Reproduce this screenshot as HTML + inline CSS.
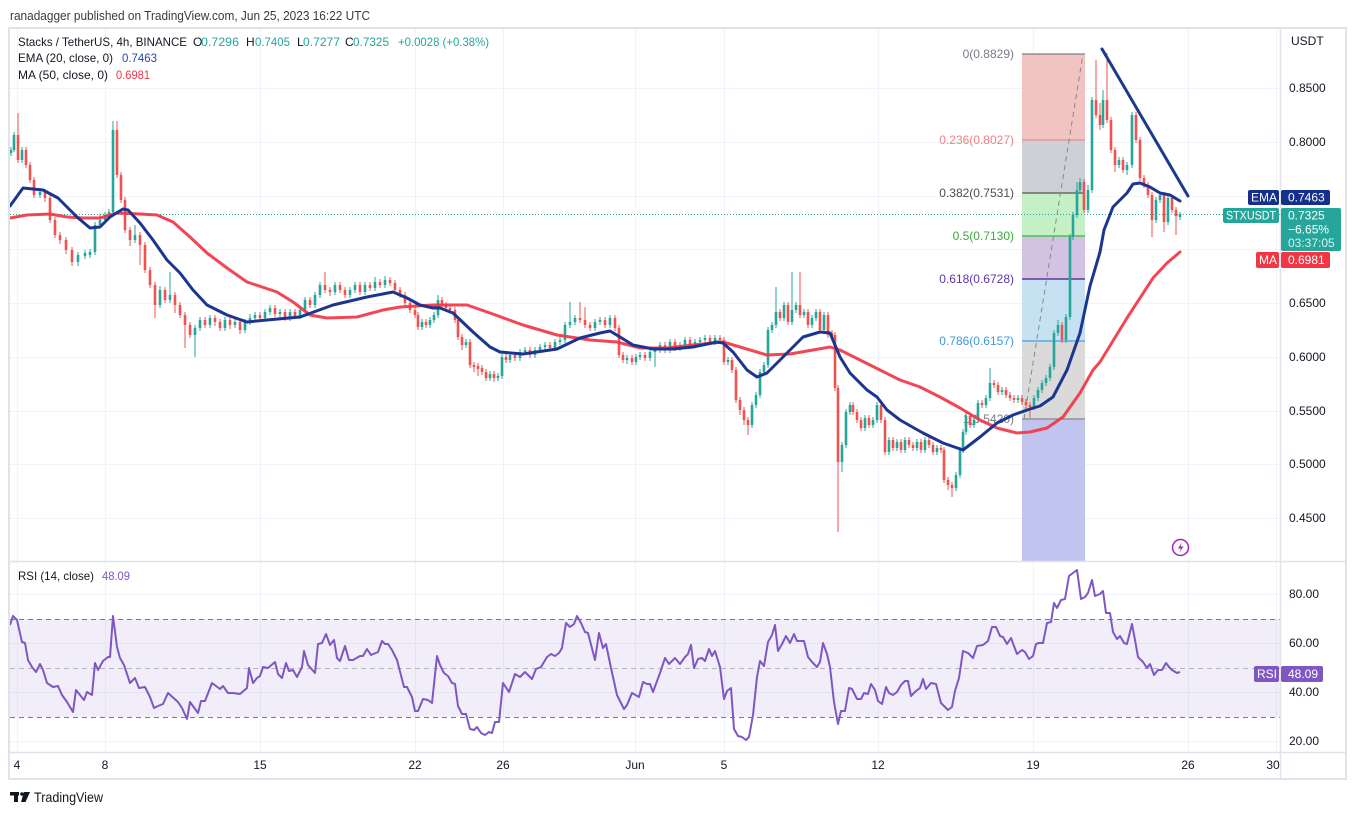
<!DOCTYPE html>
<html><head><meta charset="utf-8">
<style>
html,body{margin:0;padding:0;background:#fff;}
svg{display:block;font-family:"Liberation Sans",Arial,sans-serif;}
</style></head><body>
<svg width="1355" height="814" viewBox="0 0 1355 814" xmlns="http://www.w3.org/2000/svg">
<defs>
<clipPath id="cp"><rect x="10" y="29" width="1270" height="532"/></clipPath>
<clipPath id="cr"><rect x="10" y="562" width="1270" height="190"/></clipPath>
</defs>
<rect width="1355" height="814" fill="#fff"/>
<text x="10" y="20" font-size="13" fill="#3a3a3a" textLength="360" lengthAdjust="spacingAndGlyphs">ranadagger published on TradingView.com, Jun 25, 2023 16:22 UTC</text>

<!-- grid -->
<g stroke="#f0f3fa" stroke-width="1">
<line x1="10" y1="88.5" x2="1280" y2="88.5"/><line x1="10" y1="142.5" x2="1280" y2="142.5"/>
<line x1="10" y1="196.5" x2="1280" y2="196.5"/><line x1="10" y1="249.5" x2="1280" y2="249.5"/>
<line x1="10" y1="303.5" x2="1280" y2="303.5"/><line x1="10" y1="357.5" x2="1280" y2="357.5"/>
<line x1="10" y1="411.5" x2="1280" y2="411.5"/><line x1="10" y1="464.5" x2="1280" y2="464.5"/>
<line x1="10" y1="518.5" x2="1280" y2="518.5"/>
<line x1="10" y1="594.5" x2="1280" y2="594.5"/><line x1="10" y1="643.5" x2="1280" y2="643.5"/>
<line x1="10" y1="692.5" x2="1280" y2="692.5"/><line x1="10" y1="741.5" x2="1280" y2="741.5"/>
<line x1="17.5" y1="29" x2="17.5" y2="752"/><line x1="105.5" y1="29" x2="105.5" y2="752"/>
<line x1="260.5" y1="29" x2="260.5" y2="752"/><line x1="415.5" y1="29" x2="415.5" y2="752"/>
<line x1="503.5" y1="29" x2="503.5" y2="752"/><line x1="635.5" y1="29" x2="635.5" y2="752"/>
<line x1="724.5" y1="29" x2="724.5" y2="752"/><line x1="878.5" y1="29" x2="878.5" y2="752"/>
<line x1="1033.5" y1="29" x2="1033.5" y2="752"/><line x1="1188.5" y1="29" x2="1188.5" y2="752"/>
<line x1="1276.5" y1="29" x2="1276.5" y2="752"/>
</g>

<!-- fib retracement -->
<g>
<rect x="1022" y="54" width="63" height="86" fill="#f2c3c3"/>
<rect x="1022" y="140" width="63" height="53" fill="#cfd0d5"/>
<rect x="1022" y="193" width="63" height="43" fill="#c5efc5"/>
<rect x="1022" y="236" width="63" height="43" fill="#d2c3e2"/>
<rect x="1022" y="279" width="63" height="62" fill="#c5e1f2"/>
<rect x="1022" y="341" width="63" height="78" fill="#dadada"/>
<rect x="1022" y="419" width="63" height="142" fill="#c2c4f0"/>
<line x1="1022" y1="54" x2="1085" y2="54" stroke="#808080" stroke-width="1.2"/>
<line x1="1022" y1="140" x2="1085" y2="140" stroke="#e88a8a" stroke-width="1.2"/>
<line x1="1022" y1="193" x2="1085" y2="193" stroke="#555" stroke-width="1.2"/>
<line x1="1022" y1="236" x2="1085" y2="236" stroke="#2fbf2f" stroke-width="1.2"/>
<line x1="1022" y1="279" x2="1085" y2="279" stroke="#4a148c" stroke-width="1.2"/>
<line x1="1022" y1="341" x2="1085" y2="341" stroke="#49a0d8" stroke-width="1.2"/>
<line x1="1022" y1="419" x2="1085" y2="419" stroke="#888" stroke-width="1.2"/>
<line x1="1024" y1="419" x2="1083" y2="54" stroke="#888" stroke-width="1" stroke-dasharray="5,4"/>
<g font-size="12" text-anchor="end" dominant-baseline="central">
<text x="1014" y="54" fill="#787b86">0(0.8829)</text>
<text x="1014" y="140" fill="#ee8080">0.236(0.8027)</text>
<text x="1014" y="193" fill="#4d4d4d">0.382(0.7531)</text>
<text x="1014" y="236" fill="#3aaa3a">0.5(0.7130)</text>
<text x="1014" y="279" fill="#5e35b1">0.618(0.6728)</text>
<text x="1014" y="341" fill="#3d9ad6">0.786(0.6157)</text>
<text x="1014" y="419" fill="#787b86">1(0.5420)</text>
</g>
</g>

<!-- current price dotted line -->
<line x1="10" y1="214.5" x2="1280" y2="214.5" stroke="#26a69a" stroke-width="1" stroke-dasharray="1,2"/>

<!-- candles -->
<g clip-path="url(#cp)" fill="none" stroke-linecap="butt">
<path stroke="#26a69a" stroke-width="1" d="M11 147V156M14 132V152M22 147V163M40 188V198M78 252V266M85 250V259M90 249V258M95 222V255M100 214V228M105 212V223M109 209V218M113 121V215M135 225V243M160 286V308M170 272V303M195 325V357M200 317V331M210 315V328M225 317V331M235 319V328M245 319V333M250 314V325M255 312V321M265 309V321M270 305V315M280 309V318M290 309V321M300 307V319M305 297V313M315 292V308M320 282V298M335 282V295M350 287V298M355 282V293M365 282V295M375 277V291M385 276V288M422 319V330M430 317V328M434 312V323M438 295V318M466 339V348M490 371V381M498 373V381M502 354V379M510 352V363M520 349V361M525 347V355M535 347V358M540 344V353M545 342V350M555 339V351M560 337V345M565 322V343M570 302V328M575 315V325M595 319V331M600 317V325M610 315V328M627 355V364M636 354V365M640 352V360M650 349V361M655 347V367M660 342V353M670 339V353M680 342V351M685 337V348M695 339V348M700 337V345M705 335V343M715 335V345M728 357V365M752 402V428M756 392V408M760 369V398M764 362V375M768 327V368M772 322V333M776 287V328M784 302V321M792 272V325M796 302V313M804 309V318M812 315V328M816 309V321M824 312V333M842 442V472M846 409V448M850 402V415M865 415V431M873 417V428M877 402V423M889 437V455M897 439V451M905 437V453M917 439V451M925 437V453M937 445V455M956 472V491M960 447V478M963 429V453M966 413V435M974 417V428M978 400V423M986 395V408M990 368V401M1002 387V395M1018 395V403M1034 395V410M1038 387V401M1042 380V393M1046 375V386M1050 364V381M1054 330V370M1058 320V336M1066 314V343M1070 234V320M1073 212V240M1077 182V218M1080 178V193M1088 185V213M1092 97V193M1103 90V128M1119 157V168M1127 162V175M1132 112V168M1156 197V223M1160 192V203M1168 195V225M1180 212V220"/>
<path stroke="#26a69a" stroke-width="2.6" d="M11 150V153M14 135V150M22 150V160M40 192V195M78 255V262M85 253V256M90 252V255M95 225V252M100 220V225M105 215V220M109 212V215M113 130V212M135 235V240M160 290V305M170 295V300M195 328V335M200 320V328M210 318V325M225 320V328M235 322V325M245 322V330M250 318V322M255 315V318M265 312V318M270 308V312M280 312V314M290 312V318M300 310V316M305 300V310M315 295V305M320 285V295M335 285V292M350 290V295M355 285V290M365 285V292M375 282V288M385 280V285M422 322V327M430 320V325M434 315V320M438 300V315M466 342V345M490 374V378M498 376V378M502 357V376M510 355V360M520 352V358M525 350V352M535 350V355M540 347V350M545 345V347M555 342V348M560 340V342M565 325V340M570 322V325M575 318V322M595 322V328M600 320V322M610 318V325M627 358V360M636 357V362M640 355V357M650 352V358M655 350V352M660 345V350M670 342V350M680 345V348M685 340V345M695 342V345M700 340V342M705 338V340M715 338V342M728 360V362M752 405V425M756 395V405M760 372V395M764 365V372M768 330V365M772 325V330M776 312V325M784 305V318M792 310V322M796 305V310M804 312V315M812 318V325M816 312V318M824 315V330M842 445V462M846 412V445M850 405V412M865 418V428M873 420V425M877 405V420M889 440V452M897 442V448M905 440V450M917 442V448M925 440V450M937 448V452M956 475V488M960 450V475M963 432V450M966 416V432M974 420V425M978 403V420M986 398V405M990 383V398M1002 390V392M1018 398V400M1034 398V407M1038 390V398M1042 383V390M1046 378V383M1050 367V378M1054 333V367M1058 325V333M1066 317V340M1070 237V317M1073 215V237M1077 190V215M1080 182V190M1088 190V210M1092 100V190M1103 100V125M1119 160V165M1127 165V170M1132 115V165M1156 200V220M1160 195V200M1168 198V222M1180 214V217"/>
<path stroke="#ef5350" stroke-width="1" d="M18 113V163M26 147V168M30 162V183M34 177V198M45 189V202M50 195V223M55 217V238M60 232V244M66 237V254M72 247V266M117 121V178M121 172V203M125 197V233M130 227V246M140 232V265M145 242V273M150 267V288M155 282V318M165 287V303M175 292V313M180 302V318M185 312V348M190 322V338M205 317V328M215 315V326M220 319V331M230 317V329M240 319V334M260 312V321M275 305V317M285 309V321M295 309V319M310 297V308M325 272V293M330 287V296M340 282V293M345 287V298M360 282V295M370 282V291M380 279V288M390 277V286M395 280V293M400 287V298M405 292V306M410 300V313M415 307V318M418 312V330M426 319V328M442 297V308M446 302V311M450 305V313M455 307V323M458 317V340M462 334V350M470 339V368M474 362V372M478 363V376M482 365V375M486 369V381M494 371V382M506 354V363M515 352V361M530 347V358M550 342V351M580 302V323M585 307V328M590 322V331M605 317V328M615 315V331M619 325V358M623 352V363M632 355V365M645 352V361M665 342V353M675 339V351M690 337V348M710 335V345M720 335V343M724 337V365M732 357V373M736 367V403M740 397V415M744 407V425M748 417V435M780 309V321M788 302V325M800 272V318M808 309V328M820 309V333M828 312V338M832 330V339M835 332V391M838 385V532M853 402V415M857 409V423M861 417V431M869 415V428M881 402V423M885 417V455M893 437V451M901 439V453M909 437V448M913 442V451M921 439V453M929 437V448M933 442V455M941 445V453M944 447V483M948 477V490M952 482V497M970 413V428M982 400V408M994 380V388M998 382V395M1006 387V398M1010 392V401M1014 395V403M1022 395V405M1026 399V408M1030 402V418M1062 322V343M1084 179V213M1096 60V118M1100 103V130M1107 53V123M1111 117V153M1115 147V172M1123 157V173M1136 112V143M1140 137V181M1144 175V188M1148 182V198M1152 192V237M1164 192V232M1172 195V213M1176 207V235"/>
<path stroke="#ef5350" stroke-width="2.6" d="M18 135V160M26 150V165M30 165V180M34 180V195M45 192V198M50 198V220M55 220V235M60 235V240M66 240V250M72 250V262M117 130V175M121 175V200M125 200V230M130 230V240M140 235V245M145 245V270M150 270V285M155 285V305M165 290V300M175 295V305M180 305V315M185 315V325M190 325V335M205 320V325M215 318V322M220 322V328M230 320V325M240 322V330M260 315V318M275 308V314M285 312V318M295 312V316M310 300V305M325 285V290M330 290V292M340 285V290M345 290V295M360 285V292M370 285V288M380 282V285M390 280V283M395 283V290M400 290V295M405 295V303M410 303V310M415 310V315M418 315V327M426 322V325M442 300V305M446 305V308M450 308V310M455 310V320M458 320V337M462 337V345M470 342V365M474 365V367M478 366V369M482 368V372M486 372V378M494 374V378M506 357V360M515 355V358M530 350V355M550 345V348M580 318V320M585 320V325M590 325V328M605 320V325M615 318V328M619 328V355M623 355V360M632 358V362M645 355V358M665 345V350M675 342V348M690 340V345M710 338V342M720 338V340M724 340V362M732 360V370M736 370V400M740 400V410M744 410V420M748 420V425M780 312V318M788 305V322M800 305V315M808 312V325M820 312V330M828 315V335M832 333V336M835 335V388M838 388V462M853 405V412M857 412V420M861 420V428M869 418V425M881 405V420M885 420V452M893 440V448M901 442V450M909 440V445M913 445V448M921 442V450M929 440V445M933 445V452M941 448V450M944 450V480M948 480V485M952 485V488M970 416V425M982 403V405M994 383V385M998 385V392M1006 390V395M1010 395V398M1014 398V400M1022 398V402M1026 402V405M1030 405V407M1062 325V340M1084 182V210M1096 100V115M1100 115V125M1107 100V120M1111 120V150M1115 150V165M1123 160V170M1136 115V140M1140 140V178M1144 178V185M1148 185V195M1152 195V220M1164 195V222M1172 198V210M1176 210V216"/>
</g>

<g clip-path="url(#cp)" fill="none" stroke-linejoin="round" stroke-linecap="round">
<polyline stroke="#f23645" stroke-width="3" stroke-opacity="0.92" points="10,218 27,215 50,214 67,217 83,218 100,218 117,213 140,214 157,215 173,222 190,237 207,253 227,268 247,282 277,292 293,302 310,315 327,318 357,317 383,310 400,307 433,305 450,305 467,305 490,313 523,325 557,335 590,340 617,342 640,348 667,348 693,345 723,342 740,347 767,355 790,354 813,350 830,347 840,350 860,360 880,370 900,380 920,387 940,397 960,408 980,420 997,428 1017,433 1030,432 1047,428 1063,417 1080,393 1093,370 1100,362 1127,318 1153,278 1167,263 1180,252"/>
<polyline stroke="#1b3591" stroke-width="3" points="10,206 23,188 43,190 58,198 77,217 90,228 100,227 110,217 123,209 128,210 140,223 153,240 167,260 180,273 193,290 207,305 227,315 247,322 267,320 300,317 333,305 367,297 393,292 407,298 420,305 433,308 440,308 453,313 473,332 490,347 500,352 523,354 557,349 580,338 600,333 610,331 620,337 633,345 653,349 673,349 693,347 717,342 723,343 733,352 747,370 757,377 767,373 783,357 803,337 820,332 830,333 840,357 850,373 867,390 877,397 887,410 900,420 923,433 943,443 963,450 980,437 997,423 1013,415 1030,409 1040,406 1053,397 1067,370 1080,333 1090,286 1100,252 1104,230 1113,207 1127,193 1133,184 1140,183 1150,187 1160,193 1170,195 1180,201"/>
<line x1="1102" y1="49" x2="1188" y2="196" stroke="#1a3a8c" stroke-width="3"/>
</g>

<!-- lightning icon -->
<circle cx="1180.5" cy="547.5" r="8" fill="#fff" stroke="#9c27b0" stroke-width="1.5"/>
<path d="M1182,542 L1178,548.5 L1181,548.5 L1179,553 L1183.5,546.5 L1180.5,546.5 Z" fill="#9c27b0"/>

<!-- RSI pane -->
<rect x="10" y="619" width="1270" height="98" fill="#7e57c2" fill-opacity="0.1"/>
<line x1="10" y1="619.5" x2="1280" y2="619.5" stroke="#787b86" stroke-dasharray="5,4"/>
<line x1="10" y1="668.5" x2="1280" y2="668.5" stroke="#787b86" stroke-opacity="0.5" stroke-dasharray="5,4"/>
<line x1="10" y1="717.5" x2="1280" y2="717.5" stroke="#787b86" stroke-dasharray="5,4"/>
<polyline clip-path="url(#cr)" fill="none" stroke="#7e57c2" stroke-width="2" stroke-linejoin="round" points="10,625 13,616 17,620 22,642 25,643 28,660 32,667 36,672 40,664 43,670 47,683 53,687 58,686 62,695 67,702 73,712 76,690 80,695 84,700 87,692 92,695 95,663 98,670 103,661 108,657 110,657 113,616 117,647 120,658 124,665 130,683 135,678 139,688 145,687 150,697 154,708 158,706 163,704 168,693 178,702 182,708 187,719 190,702 198,713 201,701 205,701 212,683 220,689 223,686 228,693 233,693 240,694 247,688 249,668 253,683 257,678 260,676 263,667 268,668 275,662 278,674 282,678 286,663 289,671 293,670 297,677 302,667 304,651 308,665 315,673 318,644 322,643 326,634 330,645 334,640 337,658 340,661 345,646 349,660 353,660 360,656 363,656 367,649 371,655 378,652 382,641 385,644 388,644 392,650 397,660 404,687 407,687 412,697 415,711 418,711 423,699 428,700 432,703 437,656 440,665 444,673 448,676 452,683 455,684 458,706 462,714 466,714 470,729 474,730 477,727 481,733 485,735 489,732 492,733 495,722 499,722 503,683 509,692 515,674 520,677 525,672 532,679 536,669 541,667 547,657 551,654 555,656 559,653 562,648 566,623 570,627 574,624 577,616 581,623 585,632 588,633 595,660 599,633 603,648 606,644 611,668 617,695 624,709 627,705 632,693 639,697 643,682 647,684 650,684 653,692 660,673 665,658 669,664 675,658 680,664 685,657 688,654 691,645 694,668 698,659 702,658 705,661 709,649 712,656 715,651 720,667 724,699 727,691 731,688 734,729 738,736 742,737 746,740 749,737 753,715 757,677 760,661 764,666 768,642 772,635 775,625 778,651 782,644 786,636 790,643 794,634 797,641 804,641 808,657 812,662 817,667 820,662 823,643 827,654 830,667 834,702 838,724 841,711 845,711 849,688 852,689 857,699 861,699 864,693 868,694 871,684 875,690 878,701 882,704 886,687 889,693 893,695 897,692 901,685 905,681 908,681 911,696 916,691 920,688 923,679 926,689 931,683 936,684 941,703 945,707 948,710 952,707 955,691 959,678 963,651 968,653 973,658 977,646 983,645 988,641 992,627 996,627 1000,636 1003,637 1007,644 1011,638 1017,654 1022,650 1025,652 1029,659 1033,656 1036,644 1039,643 1043,643 1047,623 1051,622 1054,603 1057,608 1061,600 1065,599 1069,576 1073,573 1077,570 1081,599 1085,597 1088,593 1092,580 1095,596 1100,594 1103,591 1106,613 1110,613 1113,632 1117,639 1120,636 1124,643 1127,644 1132,624 1135,640 1138,657 1143,662 1147,668 1150,664 1154,675 1158,670 1162,670 1166,663 1169,667 1172,670 1177,673 1180,672"/>

<!-- frame -->
<rect x="9" y="28" width="1337" height="751" fill="none" stroke="#e0e3eb" stroke-width="2"/>
<line x1="10" y1="561.5" x2="1345" y2="561.5" stroke="#e0e3eb" stroke-width="1.5"/>
<line x1="10" y1="752.5" x2="1345" y2="752.5" stroke="#e0e3eb" stroke-width="1.5"/>
<line x1="1280.5" y1="29" x2="1280.5" y2="779" stroke="#e0e3eb" stroke-width="1.5"/>

<!-- legend -->
<g font-size="12" dominant-baseline="central">
<text x="18" y="42" fill="#131722" textLength="169" lengthAdjust="spacingAndGlyphs">Stacks / TetherUS, 4h, BINANCE</text>
<text x="193" y="42" fill="#131722">O</text><text x="201" y="42" fill="#26a69a" textLength="38" lengthAdjust="spacingAndGlyphs">0.7296</text>
<text x="246" y="42" fill="#131722">H</text><text x="255" y="42" fill="#26a69a" textLength="35" lengthAdjust="spacingAndGlyphs">0.7405</text>
<text x="297" y="42" fill="#131722">L</text><text x="303" y="42" fill="#26a69a" textLength="37" lengthAdjust="spacingAndGlyphs">0.7277</text>
<text x="345" y="42" fill="#131722">C</text><text x="353" y="42" fill="#26a69a" textLength="36" lengthAdjust="spacingAndGlyphs">0.7325</text>
<text x="398" y="42" fill="#26a69a" textLength="91" lengthAdjust="spacingAndGlyphs">+0.0028 (+0.38%)</text>
<text x="18" y="58" fill="#131722" textLength="95" lengthAdjust="spacingAndGlyphs">EMA (20, close, 0)</text>
<text x="122" y="58" fill="#2a45b0" textLength="35" lengthAdjust="spacingAndGlyphs">0.7463</text>
<text x="18" y="75" fill="#131722" textLength="90" lengthAdjust="spacingAndGlyphs">MA (50, close, 0)</text>
<text x="116" y="75" fill="#f23645" textLength="34" lengthAdjust="spacingAndGlyphs">0.6981</text>
<text x="18" y="576" fill="#131722" textLength="76" lengthAdjust="spacingAndGlyphs">RSI (14, close)</text>
<text x="102" y="576" fill="#7e57c2" textLength="28" lengthAdjust="spacingAndGlyphs">48.09</text>
</g>

<!-- price axis -->
<g font-size="12" fill="#131722" dominant-baseline="central">
<text x="1291" y="41">USDT</text>
<text x="1289" y="88">0.8500</text>
<text x="1289" y="142">0.8000</text>
<text x="1289" y="303">0.6500</text>
<text x="1289" y="357">0.6000</text>
<text x="1289" y="411">0.5500</text>
<text x="1289" y="464">0.5000</text>
<text x="1289" y="518">0.4500</text>
<text x="1289" y="594">80.00</text>
<text x="1289" y="643">60.00</text>
<text x="1289" y="692">40.00</text>
<text x="1289" y="741">20.00</text>
</g>

<!-- value labels -->
<g font-size="12" fill="#fff" dominant-baseline="central">
<rect x="1248" y="190" width="31" height="15" rx="2" fill="#152f8f"/>
<text x="1251" y="197.5">EMA</text>
<rect x="1281" y="190" width="49" height="15" rx="2" fill="#152f8f"/>
<text x="1288" y="197.5">0.7463</text>
<rect x="1223" y="208" width="56" height="15" rx="2" fill="#26a69a"/>
<text x="1226" y="215.5" textLength="50" lengthAdjust="spacingAndGlyphs">STXUSDT</text>
<rect x="1281" y="208" width="60" height="43" rx="2" fill="#26a69a"/>
<text x="1288" y="215.5">0.7325</text>
<text x="1288" y="229.5">−6.65%</text>
<text x="1288" y="243" fill="#d6f2ef">03:37:05</text>
<rect x="1256" y="252" width="23" height="16" rx="2" fill="#f23645"/>
<text x="1259" y="260">MA</text>
<rect x="1281" y="252" width="49" height="16" rx="2" fill="#f23645"/>
<text x="1288" y="260">0.6981</text>
<rect x="1254" y="666" width="25" height="16" rx="2" fill="#7e57c2"/>
<text x="1257" y="674">RSI</text>
<rect x="1281" y="666" width="42" height="16" rx="2" fill="#7e57c2"/>
<text x="1288" y="674">48.09</text>
</g>

<!-- time axis -->
<g font-size="12" fill="#131722" text-anchor="middle" dominant-baseline="central">
<text x="17" y="765">4</text>
<text x="105" y="765">8</text>
<text x="260" y="765">15</text>
<text x="415" y="765">22</text>
<text x="503" y="765">26</text>
<text x="635" y="765">Jun</text>
<text x="724" y="765">5</text>
<text x="878" y="765">12</text>
<text x="1033" y="765">19</text>
<text x="1188" y="765">26</text>
<text x="1273" y="765">30</text>
</g>

<!-- TradingView logo -->
<g fill="#131722">
<rect x="10" y="792" width="9" height="3.5"/>
<rect x="14" y="792" width="4" height="10"/>
<circle cx="22" cy="794" r="1.8"/>
<path d="M24,792 L30,792 L25.5,802 L21,802 Z"/>
<text x="34" y="797" font-size="14" dominant-baseline="central" textLength="69" lengthAdjust="spacingAndGlyphs">TradingView</text>
</g>
</svg>
</body></html>
